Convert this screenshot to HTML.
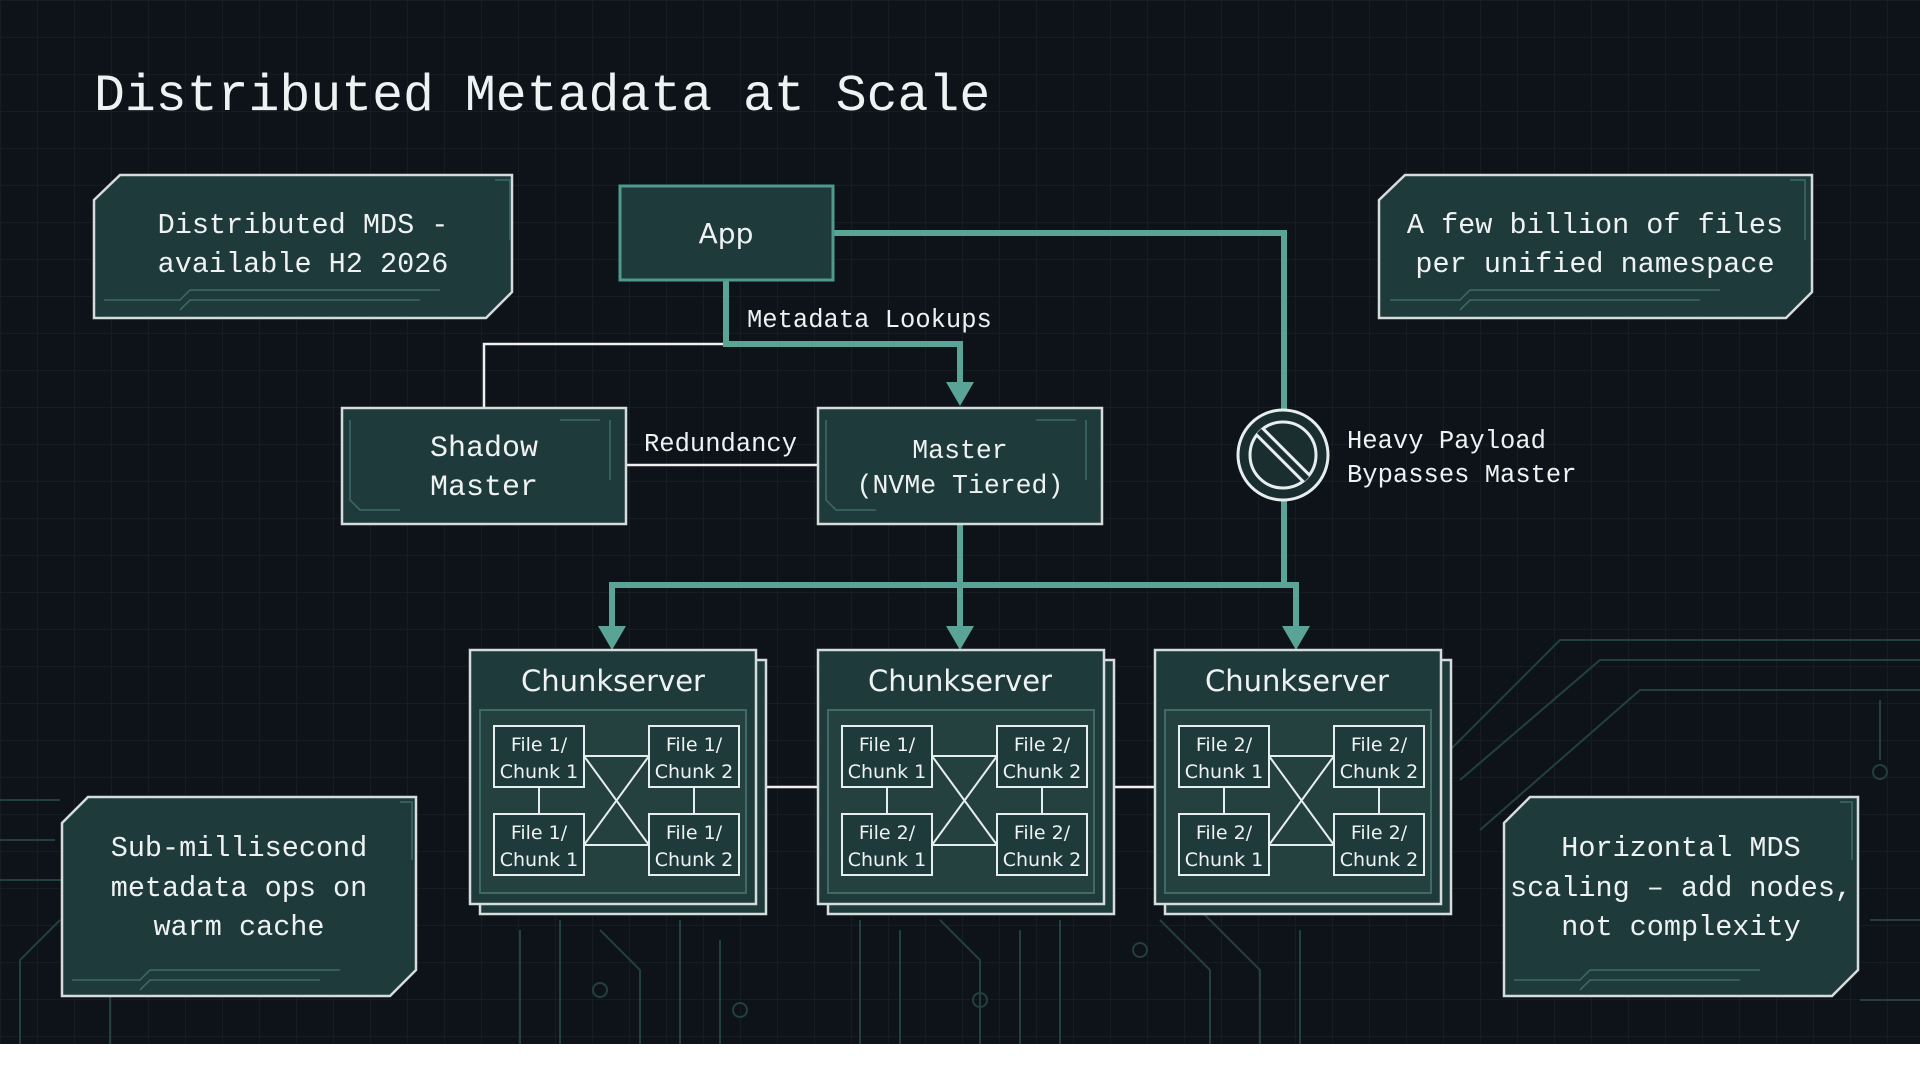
<!DOCTYPE html>
<html><head><meta charset="utf-8"><style>
html,body{margin:0;padding:0;background:#fff}
svg{display:block}
.m{font-family:"Liberation Mono","DejaVu Sans Mono",monospace;fill:#eef2f2}
.s{font-family:"DejaVu Sans","Liberation Sans",sans-serif;fill:#eef2f2}
</style></head><body>
<svg width="1920" height="1072" viewBox="0 0 1920 1072" xmlns="http://www.w3.org/2000/svg">
<defs>
<pattern id="g" width="37" height="37" patternUnits="userSpaceOnUse">
<path d="M37 0H0V37" fill="none" stroke="#1c242c" stroke-width="1"/>
</pattern>
</defs>
<rect width="1920" height="1044" fill="#0e1319"/>
<rect width="1920" height="1044" fill="url(#g)"/>
<rect y="1044" width="1920" height="28" fill="#fff"/>
<g stroke="#22403f" stroke-width="2" fill="none">
<path d="M0 800H60M0 840H55M0 880H70L110 920V1044M20 1044V960L60 920"/>
<path d="M520 930V1044M560 920V1044M600 930L640 970V1044M680 920V1044M720 940V1044"/>
<path d="M860 920V1044M900 930V1044M940 920L980 960V1044M1020 930V1044M1060 920V1044"/>
<path d="M1160 920L1210 970V1044M1200 910L1260 970V1044M1300 930V1044"/>
<path d="M1440 760L1560 640H1920M1460 780L1600 660H1920M1480 830L1640 690H1920M1880 700V760M1860 1000H1920M1870 920H1920"/>
</g>
<g stroke="#22403f" stroke-width="2" fill="none">
<circle cx="600" cy="990" r="7"/><circle cx="740" cy="1010" r="7"/><circle cx="980" cy="1000" r="7"/><circle cx="1140" cy="950" r="7"/><circle cx="1880" cy="772" r="7"/><circle cx="1840" cy="940" r="7"/>
</g>
<text class="m" x="94" y="110" font-size="51.5">Distributed Metadata at Scale</text>

<g fill="#1f3a3b" stroke="#d4dcdc" stroke-width="2.5">
<path d="M120 175H512V292L486 318H94V200Z"/>
<path d="M1405 175H1812V292L1786 318H1379V200Z"/>
<path d="M88 797H416V970L390 996H62V823Z"/>
<path d="M1530 797H1858V970L1832 996H1504V823Z"/>
</g>
<g stroke="#3f6a68" stroke-width="1.5" fill="none">
<path d="M104 300H180L190 290H440M180 310L190 300H420M495 180H510V240"/>
<path d="M1390 300H1460L1470 290H1720M1460 310L1470 300H1700M1790 180H1805V240"/>
<path d="M72 980H140L150 970H340M140 990L150 980H320M400 802H412V860"/>
<path d="M1514 980H1580L1590 970H1760M1580 990L1590 980H1740M1840 802H1852V860"/>
</g>
<text class="m" font-size="28.5" text-anchor="middle"><tspan x="303" y="233">Distributed MDS -</tspan><tspan x="303" y="272">available H2 2026</tspan></text>
<text class="m" font-size="28.5" text-anchor="middle"><tspan x="1595" y="233">A few billion of files</tspan><tspan x="1595" y="272">per unified namespace</tspan></text>
<text class="m" font-size="28.5" text-anchor="middle"><tspan x="239" y="856">Sub-millisecond</tspan><tspan x="239" y="896">metadata ops on</tspan><tspan x="239" y="935">warm cache</tspan></text>
<text class="m" font-size="28.5" text-anchor="middle"><tspan x="1681" y="856">Horizontal MDS</tspan><tspan x="1681" y="896">scaling – add nodes,</tspan><tspan x="1681" y="935">not complexity</tspan></text>

<g stroke="#f0f0f0" stroke-width="2.5" fill="none">
<path d="M726 344H484V408"/>
<path d="M626 465H818"/>
<path d="M756 787H818M1102 787H1155"/>
</g>
<g stroke="#5aa397" stroke-width="6" fill="none">
<path d="M726 280V344H960V385"/>
<path d="M833 233H1284V585H1296V630"/>
<path d="M960 524V630"/>
<path d="M612 630V585H1296"/>
</g>
<g fill="#5aa397">
<path d="M946 382H974L960 406Z"/>
<path d="M598 626H626L612 650Z"/>
<path d="M946 626H974L960 650Z"/>
<path d="M1282 626H1310L1296 650Z"/>
</g>

<rect x="620" y="186" width="213" height="94" fill="#1f3a3b" stroke="#4e9a8e" stroke-width="3"/>
<text class="s" x="726" y="243" font-size="28" text-anchor="middle">App</text>
<g fill="#1f3a3b" stroke="#d4dcdc" stroke-width="2.5">
<rect x="342" y="408" width="284" height="116"/>
<rect x="818" y="408" width="284" height="116"/>
</g>
<g stroke="#3f6a68" stroke-width="1.5" fill="none">
<path d="M350 420V500L360 510H400M610 420V480M560 420H600M826 420V500L836 510H876M1086 420V480M1036 420H1076"/>
</g>
<text class="m" font-size="30" text-anchor="middle"><tspan x="484" y="456">Shadow</tspan><tspan x="484" y="495">Master</tspan></text>
<text class="m" font-size="26.5" text-anchor="middle"><tspan x="960" y="458">Master</tspan><tspan x="960" y="493">(NVMe Tiered)</tspan></text>
<text class="m" x="644" y="451" font-size="25.5">Redundancy</text>
<text class="m" x="747" y="327" font-size="25.5">Metadata Lookups</text>

<circle cx="1283" cy="455" r="45" fill="#1a2e30" stroke="#e6eeee" stroke-width="3"/>
<circle cx="1283" cy="455" r="33" fill="none" stroke="#e6eeee" stroke-width="3"/>
<path d="M1259 431L1307 479" stroke="#e6eeee" stroke-width="12"/>
<path d="M1259 431L1307 479" stroke="#1a2e30" stroke-width="6"/>
<text class="m" font-size="25.5"><tspan x="1347" y="448">Heavy Payload</tspan><tspan x="1347" y="482">Bypasses Master</tspan></text>

<g id="cs1" transform="translate(470,650)">
<rect x="10" y="10" width="286" height="254" fill="#1f3a3b" stroke="#d4dcdc" stroke-width="2.5"/>
<rect x="0" y="0" width="286" height="254" fill="#1f3a3b" stroke="#d4dcdc" stroke-width="2.5"/>
<rect x="10" y="60" width="266" height="183" fill="#24403f" stroke="#3f6a68" stroke-width="2"/>
<g stroke="#e6eeee" stroke-width="2" fill="none">
<path d="M114 106H179M114 195H179M69 137V164M224 137V164M114 106L179 195M179 106L114 195"/>
</g>
<g fill="#1f3a3b" stroke="#e6eeee" stroke-width="2">
<rect x="24" y="76" width="90" height="61"/><rect x="179" y="76" width="90" height="61"/>
<rect x="24" y="164" width="90" height="61"/><rect x="179" y="164" width="90" height="61"/>
</g>
</g>
<use href="#cs1" x="348"/>
<use href="#cs1" x="685"/>
<g class="s" font-size="29" text-anchor="middle">
<text x="613" y="691">Chunkserver</text><text x="960" y="691">Chunkserver</text><text x="1297" y="691">Chunkserver</text>
</g>
<g class="s" font-size="19" text-anchor="middle">
<text x="539" y="751">File 1/</text><text x="539" y="778">Chunk 1</text>
<text x="694" y="751">File 1/</text><text x="694" y="778">Chunk 2</text>
<text x="539" y="839">File 1/</text><text x="539" y="866">Chunk 1</text>
<text x="694" y="839">File 1/</text><text x="694" y="866">Chunk 2</text>
<text x="887" y="751">File 1/</text><text x="887" y="778">Chunk 1</text>
<text x="1042" y="751">File 2/</text><text x="1042" y="778">Chunk 2</text>
<text x="887" y="839">File 2/</text><text x="887" y="866">Chunk 1</text>
<text x="1042" y="839">File 2/</text><text x="1042" y="866">Chunk 2</text>
<text x="1224" y="751">File 2/</text><text x="1224" y="778">Chunk 1</text>
<text x="1379" y="751">File 2/</text><text x="1379" y="778">Chunk 2</text>
<text x="1224" y="839">File 2/</text><text x="1224" y="866">Chunk 1</text>
<text x="1379" y="839">File 2/</text><text x="1379" y="866">Chunk 2</text>
</g>
</svg>
</body></html>
